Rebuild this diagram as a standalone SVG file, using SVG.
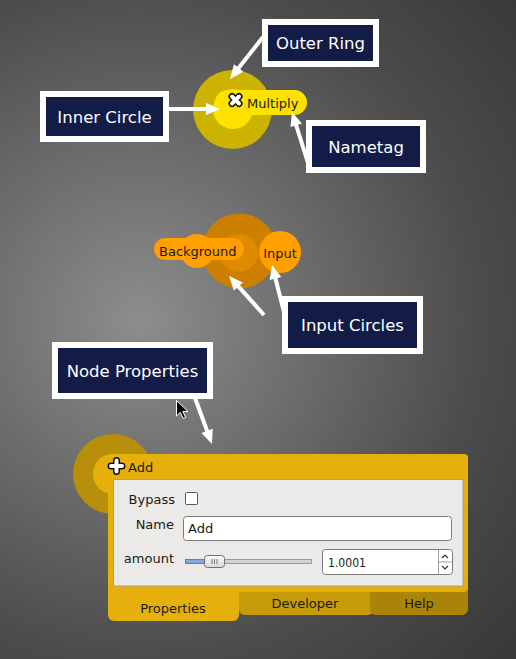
<svg xmlns="http://www.w3.org/2000/svg" width="516" height="659" viewBox="0 0 516 659">
<defs>
<radialGradient id="bg" gradientUnits="userSpaceOnUse" cx="140" cy="320" r="520">
<stop offset="0" stop-color="#8d8d8d"/>
<stop offset="0.65" stop-color="#4c4c4c"/>
<stop offset="1" stop-color="#363636"/>
</radialGradient>
<linearGradient id="handle" x1="0" y1="0" x2="0" y2="1">
<stop offset="0" stop-color="#fbfbfb"/>
<stop offset="1" stop-color="#d8d8d8"/>
</linearGradient>
<marker id="ah" markerUnits="userSpaceOnUse" markerWidth="16" markerHeight="14" refX="4" refY="7" orient="auto" overflow="visible">
<path d="M0,1 L14,7 L0,13 z" fill="#ffffff"/>
</marker>
</defs>
<style>
.lbl rect{fill:#121c46;stroke:#ffffff;stroke-width:6}
.lbl text{fill:#ffffff;font-family:"DejaVu Sans",Verdana,sans-serif;font-size:16.5px;text-anchor:middle}
.conn line{stroke:#ffffff;stroke-width:4;marker-end:url(#ah)}
.t{font-family:"DejaVu Sans",sans-serif;font-size:13px;fill:#1c1a10}
.ic1{stroke:#111;stroke-width:7;stroke-linecap:round;fill:none}
.ic2{stroke:#fff;stroke-width:4;stroke-linecap:round;fill:none}
.tab{stroke:none}
</style>
<rect width="516" height="659" fill="url(#bg)"/>

<g id="multiply-node">
<circle cx="232.5" cy="109.5" r="39.5" fill="#ccb300"/>
<circle cx="233" cy="109" r="20" fill="#fde200"/>
<rect x="215" y="90" width="92" height="25" rx="12.5" fill="#fde200"/>
<path class="ic1" d="M232,96.5 L239,103.5 M239,96.5 L232,103.5"/>
<path class="ic2" d="M232,96.5 L239,103.5 M239,96.5 L232,103.5"/>
<text class="t" x="247" y="108">Multiply</text>
</g>

<g id="input-node">
<circle cx="239.5" cy="251" r="37.5" fill="#cc7f00"/>
<circle cx="239" cy="253" r="19" fill="#df8a00"/>
<circle cx="197" cy="251" r="17" fill="#ff9f00"/>
<rect x="154" y="238" width="90" height="22" rx="11" fill="#ff9f00"/>
<text class="t" x="159" y="256">Background</text>
<circle cx="280" cy="252" r="21" fill="#ff9f00"/>
<text class="t" x="280" y="258" text-anchor="middle">Input</text>
</g>

<g id="add-node">
<circle cx="113" cy="474" r="40" fill="#b88f0a"/>
<rect x="239" y="580" width="135" height="35" rx="6" fill="#c59b0b"/>
<rect x="370" y="580" width="98" height="35" rx="6" fill="#a98409"/>
<rect x="108" y="580" width="131" height="41" rx="6" fill="#e6b00c"/>
<rect x="108" y="454" width="360" height="138" rx="4" fill="#e6b00c"/>
<circle cx="113" cy="474" r="20" fill="#e6b00c"/>
<rect x="113" y="454" width="20" height="20" fill="#e6b00c"/>
<path class="ic1" d="M116.5,460.5 V471.5 M111,466 H122"/>
<path class="ic2" d="M116.5,460.5 V471.5 M111,466 H122"/>
<text class="t" x="128" y="472" font-size="14">Add</text>
<rect x="113.5" y="479.5" width="349.5" height="106.5" fill="#eceae8" stroke="#a09e9a"/>
<text class="t" x="175" y="504" text-anchor="end">Bypass</text>
<rect x="185.5" y="492.5" width="12" height="12" rx="1" fill="#ffffff" stroke="#555"/>
<text class="t" x="174" y="529" text-anchor="end">Name</text>
<rect x="183.5" y="516.5" width="268" height="24" rx="3" fill="#ffffff" stroke="#7a7a7a"/>
<text class="t" x="188" y="533" font-size="14">Add</text>
<text class="t" x="174" y="563" text-anchor="end">amount</text>
<rect x="185.5" y="559.5" width="126" height="4" fill="#d4d4d4" stroke="#9a9a9a"/>
<rect x="185.5" y="559.5" width="19" height="4" fill="#86a8d8" stroke="#5a7fb5"/>
<rect x="204.5" y="555.5" width="20" height="12" rx="3" fill="url(#handle)" stroke="#707070"/>
<path d="M212,559 V564 M214.5,559 V564 M217,559 V564" stroke="#555" stroke-width="0.8"/>
<rect x="322.5" y="549.5" width="130" height="25" rx="3" fill="#ffffff" stroke="#7a7a7a"/>
<path d="M438.5,550 V574 M438.5,562 H452" stroke="#a0a0a0" fill="none"/>
<path d="M442,558 L445,555 L448,558 M442,566 L445,569 L448,566" stroke="#333" stroke-width="1.2" fill="none"/>
<text class="t" x="328" y="567" font-size="12" textLength="38" lengthAdjust="spacingAndGlyphs">1.0001</text>
<text class="t" x="173" y="613" text-anchor="middle">Properties</text>
<text class="t" x="305" y="608" text-anchor="middle">Developer</text>
<text class="t" x="419" y="608" text-anchor="middle">Help</text>
</g>

<g id="connectors" class="conn">
<line x1="263" y1="37" x2="236.2" y2="71.1"/>
<line x1="169" y1="109" x2="210" y2="109"/>
<line x1="308" y1="163" x2="295" y2="121.5"/>
<line x1="264" y1="315" x2="235.7" y2="283.4"/>
<line x1="284" y1="312" x2="274.5" y2="274.7"/>
<line x1="195" y1="398" x2="208.5" y2="434.6"/>
</g>

<g id="label-outer-ring" class="lbl">
<rect x="265" y="22" width="111" height="42"/>
<text x="320.5" y="49">Outer Ring</text>
</g>
<g id="label-inner-circle" class="lbl">
<rect x="43" y="94" width="123" height="45"/>
<text x="104.5" y="122.5">Inner Circle</text>
</g>
<g id="label-nametag" class="lbl">
<rect x="309" y="123" width="114" height="47"/>
<text x="366" y="152.5">Nametag</text>
</g>
<g id="label-input-circles" class="lbl">
<rect x="285" y="299" width="135" height="52"/>
<text x="352.5" y="331">Input Circles</text>
</g>
<g id="label-node-properties" class="lbl">
<rect x="55" y="345" width="155" height="51"/>
<text x="132.5" y="376.5">Node Properties</text>
</g>

<g id="cursor">
<path d="M176.5,400.5 V416 L180.3,412.3 L183.2,418.5 L185.6,417.4 L182.8,411.4 L188,411.4 Z" fill="#000" stroke="#fff" stroke-width="1"/>
</g>
</svg>
